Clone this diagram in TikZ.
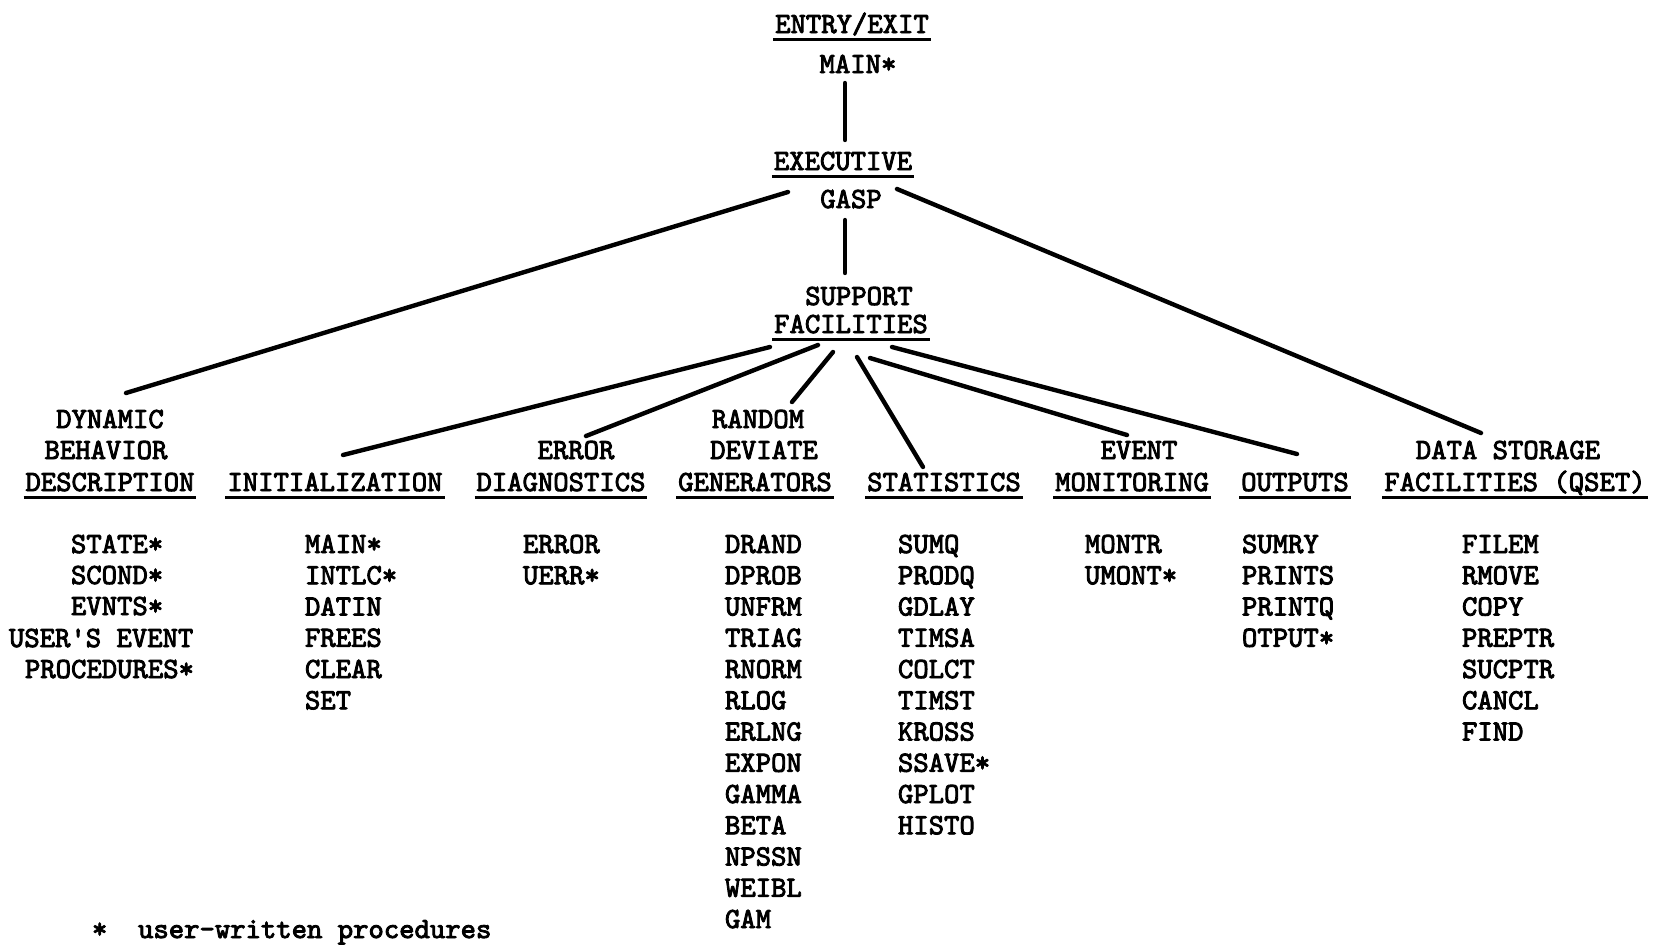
\documentclass[tikz,border=0pt]{standalone}
\usepackage{fontspec}
\usetikzlibrary{calc}

% heavy typewriter face
\newfontfamily\typewr{lmmono10-regular.otf}[FakeBold=3]

% underlined word: a heavy rule just below the baseline
\newsavebox\ulsave
\newcommand\ulword[1]{\sbox\ulsave{#1}\rlap{\kern-1pt\rule[-4.2pt]{\dimexpr\wd\ulsave+2pt\relax}{1.5pt}}\usebox\ulsave}

\tikzset{
  every node/.style={inner sep=0pt, outer sep=0pt},
  lbl/.style={font=\typewr\fontsize{14.63pt}{15.6pt}\selectfont, anchor=base},
  item/.style={lbl, anchor=base west},
  link/.style={line width=2.2pt, line cap=round},
}

\begin{document}
\begin{tikzpicture}[x=0.5pt, y=-0.5pt]
\useasboundingbox (0,0) rectangle (1661,944);

% ---- top of the tree
\node[lbl] (entry) at (852,33) {\ulword{ENTRY/EXIT}};
\node[lbl] (main)  at (858,73) {MAIN*};
\node[lbl] (exec)  at (843,170) {\ulword{EXECUTIVE}};
\node[lbl] (gasp)  at (851,208) {GASP};
\node[lbl] (sf1)   at (859,305) {SUPPORT};
\node[lbl] (sf2)   at (851,333) {\ulword{FACILITIES}};

% ---- second level headings
\node[lbl] (dyn1) at (110,428) {DYNAMIC};
\node[lbl] (dyn2) at (106,459) {BEHAVIOR};
\node[lbl] (dyn3) at (110,491) {\ulword{DESCRIPTION}};

\node[lbl] (init) at (335,491) {\ulword{INITIALIZATION}};

\node[lbl] (err1) at (576,459) {ERROR};
\node[lbl] (err2) at (561,491) {\ulword{DIAGNOSTICS}};

\node[lbl] (rand1) at (758,428) {RANDOM};
\node[lbl] (rand2) at (764,459) {DEVIATE};
\node[lbl] (rand3) at (755,491) {\ulword{GENERATORS}};

\node[lbl] (stat) at (944,491) {\ulword{STATISTICS}};

\node[lbl] (ev1) at (1139,459) {EVENT};
\node[lbl] (ev2) at (1132,491) {\ulword{MONITORING}};

\node[lbl] (out) at (1295,491) {\ulword{OUTPUTS}};

\node[lbl] (ds1) at (1508,459) {DATA STORAGE};
\node[lbl] (ds2) at (1515,491) {\ulword{FACILITIES (QSET)}};

% ---- procedure lists
\node[item] (dynA) at (71,553)  {STATE*};
\node[item] (dynB) at (71,584)  {SCOND*};
\node[item] (dynC) at (71,615)  {EVNTS*};
\node[item] (dynD) at (9,647)   {USER'S EVENT};
\node[item] (dynE) at (25,678)  {PROCEDURES*};

\foreach \t [count=\i from 0] in {MAIN*,INTLC*,DATIN,FREES,CLEAR,SET}
  \node[item] (ini\i) at (305,{553+31.25*\i}) {\t};

\foreach \t [count=\i from 0] in {ERROR,UERR*}
  \node[item] (erl\i) at (523,{553+31.25*\i}) {\t};

\foreach \t [count=\i from 0] in {DRAND,DPROB,UNFRM,TRIAG,RNORM,RLOG,ERLNG,EXPON,GAMMA,BETA,NPSSN,WEIBL,GAM}
  \node[item] (rdg\i) at (725,{553+31.25*\i}) {\t};

\foreach \t [count=\i from 0] in {SUMQ,PRODQ,GDLAY,TIMSA,COLCT,TIMST,KROSS,SSAVE*,GPLOT,HISTO}
  \node[item] (sta\i) at (898,{553+31.25*\i}) {\t};

\foreach \t [count=\i from 0] in {MONTR,UMONT*}
  \node[item] (mon\i) at (1085,{553+31.25*\i}) {\t};

\foreach \t [count=\i from 0] in {SUMRY,PRINTS,PRINTQ,OTPUT*}
  \node[item] (opt\i) at (1242,{553+31.25*\i}) {\t};

\foreach \t [count=\i from 0] in {FILEM,RMOVE,COPY,PREPTR,SUCPTR,CANCL,FIND}
  \node[item] (qst\i) at (1462,{553+31.25*\i}) {\t};

% ---- footnote
\node[item] (note) at (92,938) {*\ \ user-written procedures};

% ---- connectors
\draw[link] ($(main.base)+(-13,10)$) -- ($(exec.base)+(2,-30)$);
\draw[link] ($(gasp.base)+(-6,12)$) -- ($(sf1.base)+(-14,-32)$);
\draw[link] ($(gasp.base)+(-63,-16)$) -- ($(dyn1.base)+(16,-35)$);
\draw[link] ($(gasp.base)+(46,-19)$) -- ($(ds1.base)+(-27,-26)$);

\draw[link] ($(sf2.base)+(-81,14)$) -- ($(init.base)+(8,-36)$);
\draw[link] ($(sf2.base)+(-33,12)$) -- ($(err1.base)+(10,-23)$);
\draw[link] ($(sf2.base)+(-18,19)$) -- ($(rand1.base)+(34,-26)$);
\draw[link] ($(sf2.base)+(6,24)$)   -- ($(stat.base)+(-21,-24)$);
\draw[link] ($(sf2.base)+(19,25)$)  -- ($(ev1.base)+(-12,-24)$);
\draw[link] ($(sf2.base)+(41,14)$)  -- ($(out.base)+(2,-37)$);
\end{tikzpicture}
\end{document}
